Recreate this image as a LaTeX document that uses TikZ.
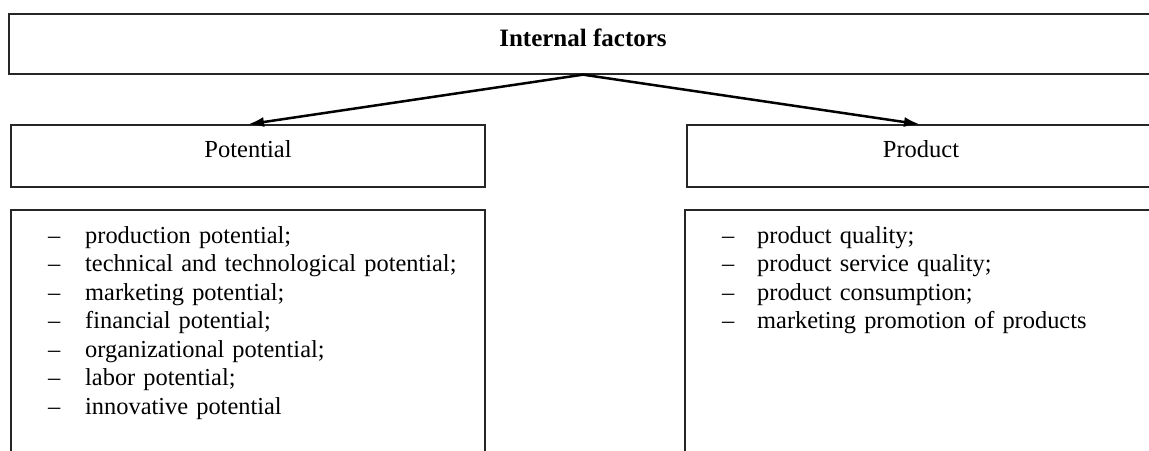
\documentclass[tikz,border=0pt]{standalone}
\usepackage{fontspec}
\setmainfont{Liberation Serif}
\usetikzlibrary{arrows.meta}
\begin{document}
\begin{tikzpicture}[x=1pt,y=-1pt,
  boxstyle/.style={draw=black!85,line width=1.3pt,rectangle,inner sep=0pt},
  lbl/.style={inner sep=0pt,anchor=base,font=\fontsize{24.5}{28.5}\selectfont},
  listtext/.style={inner sep=0pt,anchor=base west,align=left,text width=420pt,font=\fontsize{24.4}{28.5}\selectfont},
  conn/.style={line width=2.5pt,-{Latex[length=16pt,width=10pt]}}]
\useasboundingbox (0,0) rectangle (1149,450);
\node[boxstyle,minimum width=1156pt,minimum height=60pt] (top) at (587,44) {};
\node[lbl,font=\fontsize{25}{28.5}\selectfont\bfseries] (toplbl) at (583,46) {Internal factors};
\node[boxstyle,minimum width=474pt,minimum height=62pt] (pot) at (248,156) {};
\node[lbl] (potlbl) at (248,157) {Potential};
\node[boxstyle,minimum width=476pt,minimum height=62pt] (prod) at (925,156) {};
\node[lbl] (prodlbl) at (921,157) {Product};
\node[boxstyle,minimum width=474pt,minimum height=250pt] (potlist) at (248,335) {};
\node[boxstyle,minimum width=478pt,minimum height=250pt] (prodlist) at (924,335) {};
\node[listtext] (potitems) at (48,243) {%
\makebox[37pt][l]{–}production potential;\\
\makebox[37pt][l]{–}technical and technological potential;\\
\makebox[37pt][l]{–}marketing potential;\\
\makebox[37pt][l]{–}financial potential;\\
\makebox[37pt][l]{–}organizational potential;\\
\makebox[37pt][l]{–}labor potential;\\
\makebox[37pt][l]{–}innovative potential};
\node[listtext] (proditems) at (722,243) {%
\makebox[35pt][l]{–}product quality;\\
\makebox[35pt][l]{–}product service quality;\\
\makebox[35pt][l]{–}product consumption;\\
\makebox[35pt][l]{–}marketing promotion of products};
\draw[conn] ([xshift=-4pt]top.south) -- (pot.north);
\draw[conn] ([xshift=-4pt]top.south) -- ([xshift=-5pt]prod.north);
\end{tikzpicture}
\end{document}
